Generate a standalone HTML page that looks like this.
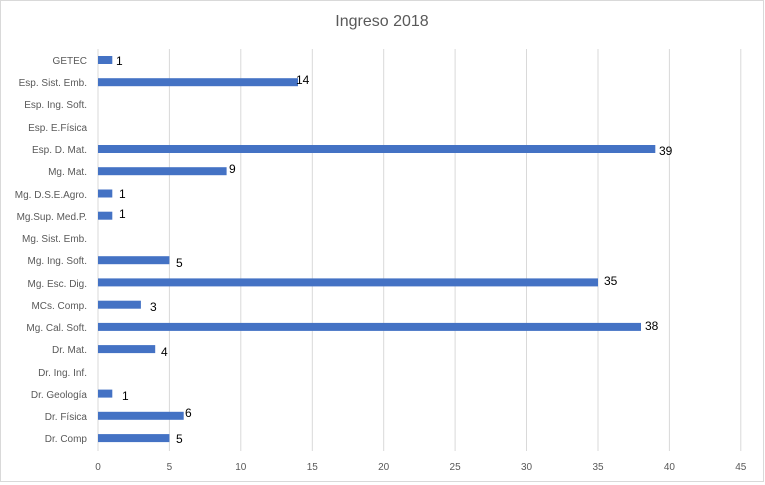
<!DOCTYPE html>
<html><head><meta charset="utf-8"><style>body{margin:0;background:#fff}svg{display:block}</style></head>
<body>
<svg width="765" height="485" xmlns="http://www.w3.org/2000/svg" font-family="'Liberation Sans', sans-serif">
<rect x="0.5" y="0.5" width="763" height="481" fill="#fff" stroke="#d9d9d9"/>
<text x="382" y="26" text-anchor="middle" font-size="16" fill="#595959">Ingreso 2018</text>
<g stroke="#d9d9d9" stroke-width="1">
<line x1="98" y1="49" x2="98" y2="451"/><line x1="169.4" y1="49" x2="169.4" y2="451"/><line x1="240.8" y1="49" x2="240.8" y2="451"/><line x1="312.3" y1="49" x2="312.3" y2="451"/><line x1="383.7" y1="49" x2="383.7" y2="451"/><line x1="455.1" y1="49" x2="455.1" y2="451"/><line x1="526.5" y1="49" x2="526.5" y2="451"/><line x1="598" y1="49" x2="598" y2="451"/><line x1="669.4" y1="49" x2="669.4" y2="451"/><line x1="740.8" y1="49" x2="740.8" y2="451"/>
</g>
<g font-size="10" fill="#595959" text-anchor="middle">
<text x="98" y="470">0</text><text x="169.4" y="470">5</text><text x="240.8" y="470">10</text><text x="312.3" y="470">15</text><text x="383.7" y="470">20</text><text x="455.1" y="470">25</text><text x="526.5" y="470">30</text><text x="598" y="470">35</text><text x="669.4" y="470">40</text><text x="740.8" y="470">45</text>
</g>
<g font-size="10" fill="#595959" text-anchor="end">
<text x="87" y="64">GETEC</text>
<text x="87" y="86">Esp. Sist. Emb.</text>
<text x="87" y="108">Esp. Ing. Soft.</text>
<text x="87" y="131">Esp. E.Física</text>
<text x="87" y="153">Esp. D. Mat.</text>
<text x="87" y="175">Mg. Mat.</text>
<text x="87" y="198">Mg. D.S.E.Agro.</text>
<text x="87" y="220">Mg.Sup. Med.P.</text>
<text x="87" y="242">Mg. Sist. Emb.</text>
<text x="87" y="264">Mg. Ing. Soft.</text>
<text x="87" y="287">Mg. Esc. Dig.</text>
<text x="87" y="309">MCs. Comp.</text>
<text x="87" y="331">Mg. Cal. Soft.</text>
<text x="87" y="353">Dr. Mat.</text>
<text x="87" y="376">Dr. Ing. Inf.</text>
<text x="87" y="398">Dr. Geología</text>
<text x="87" y="420">Dr. Física</text>
<text x="87" y="442">Dr. Comp</text>
</g>
<g fill="#4472c4">
<rect x="98" y="56" width="14.3" height="8"/>
<rect x="98" y="78.2" width="200" height="8"/>
<rect x="98" y="145.0" width="557.3" height="8"/>
<rect x="98" y="167.2" width="128.6" height="8"/>
<rect x="98" y="189.5" width="14.3" height="8"/>
<rect x="98" y="211.7" width="14.3" height="8"/>
<rect x="98" y="256.2" width="71.4" height="8"/>
<rect x="98" y="278.4" width="500" height="8"/>
<rect x="98" y="300.7" width="42.9" height="8"/>
<rect x="98" y="322.9" width="543" height="8"/>
<rect x="98" y="345.1" width="57.2" height="8"/>
<rect x="98" y="389.6" width="14.3" height="8"/>
<rect x="98" y="411.8" width="85.7" height="8"/>
<rect x="98" y="434.1" width="71.4" height="8"/>
</g>
<g font-size="12" fill="#000">
<text x="116" y="65">1</text>
<text x="296" y="84">14</text>
<text x="659" y="155">39</text>
<text x="229" y="173">9</text>
<text x="119" y="198">1</text>
<text x="119" y="218">1</text>
<text x="176" y="267">5</text>
<text x="604" y="285">35</text>
<text x="150" y="311">3</text>
<text x="645" y="330">38</text>
<text x="161" y="356">4</text>
<text x="122" y="400">1</text>
<text x="185" y="417">6</text>
<text x="176" y="443">5</text>
</g>
</svg>
</body></html>
